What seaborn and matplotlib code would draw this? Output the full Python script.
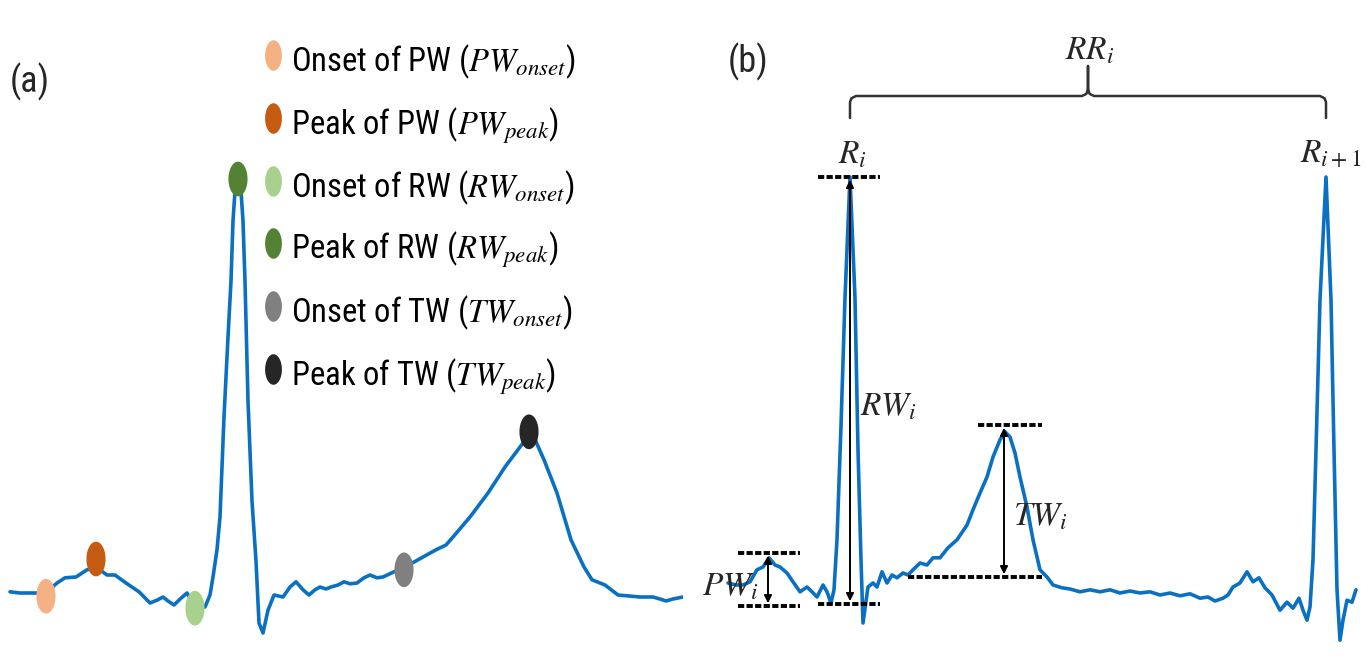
import numpy as np
import pandas as pd
import matplotlib
matplotlib.use("Agg")
import matplotlib.pyplot as plt
import seaborn as sns
from matplotlib.path import Path
from matplotlib import font_manager as fm

# ---------------- data ----------------
# panel (a): one beat, time in ms, amplitude in mV
ecg_a_time_ms = [0, 20, 40, 60, 76, 94, 110, 132, 154, 172, 194, 210, 232, 258, 280, 294,
                 306, 316, 328, 342, 354, 370, 390, 400, 406, 414, 420, 428, 436, 442,
                 446, 450, 456, 462, 466, 470, 476, 484, 492, 498, 506, 516, 528, 546,
                 560, 572, 586, 598, 610, 620, 632, 642, 656, 668, 680, 694, 708, 720,
                 734, 746, 768, 790, 816, 852, 872, 886, 920, 956, 990, 1026, 1046, 1068,
                 1094, 1122, 1148, 1164, 1190, 1216, 1260, 1286, 1300, 1312, 1326, 1346]
ecg_a_mv = [0.003, 0.000, 0.000, 0.000, 0.005, 0.025, 0.038, 0.040, 0.058, 0.065, 0.045,
            0.045, 0.025, 0.003, -0.025, -0.018, -0.010, -0.020, -0.030, -0.013, 0.000,
            -0.033, -0.035, -0.005, 0.040, 0.108, 0.190, 0.440, 0.640, 0.780, 0.930,
            1.005, 1.030, 1.005, 0.930, 0.780, 0.480, 0.230, 0.080, -0.075, -0.100,
            -0.043, -0.005, -0.010, 0.015, 0.028, 0.008, -0.005, 0.008, 0.015, 0.010,
            0.015, 0.020, 0.028, 0.023, 0.025, 0.038, 0.045, 0.038, 0.040, 0.053, 0.065,
            0.083, 0.108, 0.120, 0.140, 0.190, 0.250, 0.315, 0.375, 0.395, 0.333, 0.250,
            0.133, 0.065, 0.033, 0.020, -0.005, -0.010, -0.010, -0.015, -0.020, -0.015,
            -0.010]

fid_labels = ["Onset of PW", "Peak of PW", "Onset of RW", "Peak of RW",
              "Onset of TW", "Peak of TW"]
fid_symbols = ["PW_{onset}", "PW_{peak}", "RW_{onset}", "RW_{peak}",
               "TW_{onset}", "TW_{peak}"]
fid_time_ms = [72, 172, 370, 456, 788, 1038]
fid_mv = [-0.008, 0.085, -0.038, 1.035, 0.058, 0.403]
fid_colors = ["#F4B183", "#C55A11", "#A9D18E", "#548235", "#808080", "#262626"]

# panel (b): one RR interval, time in ms, amplitude in mV
ecg_b_time_ms = [0, 16, 30, 44, 58, 70, 82, 94, 104, 118, 130, 144, 158, 168, 178, 190,
                 198, 206, 212, 218, 226, 234, 244, 254, 260, 266, 270, 280, 290, 298,
                 308, 318, 328, 338, 350, 360, 370, 384, 398, 410, 424, 440, 458, 478,
                 490, 504, 518, 530, 544, 554, 564, 574, 584, 598, 610, 624, 638, 650,
                 668, 684, 704, 724, 744, 764, 784, 804, 824, 844, 864, 884, 904, 924,
                 944, 960, 974, 990, 1000, 1010, 1024, 1038, 1050, 1062, 1074, 1088,
                 1104, 1118, 1130, 1142, 1150, 1158, 1164, 1170, 1176, 1184, 1196, 1206,
                 1212, 1218, 1224, 1230, 1238, 1248, 1256]
ecg_b_mv = [0.035, 0.030, 0.030, 0.038, 0.068, 0.075, 0.098, 0.080, 0.075, 0.060, 0.038,
            0.013, 0.025, 0.013, 0.000, 0.030, 0.013, -0.015, 0.018, 0.143, 0.428, 0.748,
            1.050, 0.748, 0.368, 0.093, -0.065, 0.025, 0.035, 0.025, 0.063, 0.035, 0.055,
            0.048, 0.060, 0.055, 0.068, 0.085, 0.080, 0.098, 0.098, 0.123, 0.143, 0.180,
            0.218, 0.260, 0.300, 0.350, 0.393, 0.413, 0.400, 0.360, 0.300, 0.225, 0.143,
            0.068, 0.050, 0.030, 0.023, 0.020, 0.013, 0.018, 0.013, 0.018, 0.010, 0.015,
            0.010, 0.013, 0.005, 0.010, 0.003, 0.008, -0.003, 0.000, -0.010, -0.003,
            0.005, 0.025, 0.035, 0.063, 0.038, 0.048, 0.023, 0.005, -0.033, -0.013,
            -0.028, -0.003, -0.033, -0.058, -0.025, 0.093, 0.368, 0.743, 1.050, 0.743,
            0.368, 0.018, -0.108, -0.058, -0.008, -0.013, 0.018]

# amplitude reference levels (top, bottom) in mV, read from the dashed guides
wave_names = ["PW", "RW", "TW"]
wave_top_mv = [0.110, 1.050, 0.430]
wave_bottom_mv = [-0.0225, -0.0175, 0.050]

# ---------------- style ----------------
sns.set_theme(style="white")
avail = {f.name for f in fm.fontManager.ttflist}
main_font = "DejaVu Sans"
for cand in ["Liberation Sans Narrow", "Roboto Condensed", "Open Sans Condensed",
             "Liberation Sans", "DejaVu Sans"]:
    if cand in avail:
        main_font = cand
        break
plt.rcParams["font.family"] = [main_font, "DejaVu Sans"]
plt.rcParams["mathtext.fontset"] = "stix"

BLUE = "#0A70C2"
fig = plt.figure(figsize=(13.66, 6.67), dpi=100)
fig.patch.set_facecolor("white")

# ---------------- panel (a) ----------------
ax_a = fig.add_axes([0, 0, 0.5, 1])
df_a = pd.DataFrame({"t": ecg_a_time_ms, "mv": ecg_a_mv})
sns.lineplot(data=df_a, x="t", y="mv", ax=ax_a, color=BLUE, lw=2.6,
             sort=False, estimator=None)
ax_a.set_xlim(-20, 1346)
ax_a.set_ylim(-0.185, 1.4825)
ax_a.axis("off")

theta = np.linspace(0, 2 * np.pi, 64)
ell = Path(np.column_stack([0.55 * np.cos(theta), np.sin(theta)]), closed=True)

ax_a.scatter(fid_time_ms, fid_mv, s=25 ** 2, marker=ell, c=fid_colors,
             linewidths=0, zorder=5)

# legend of fiducial points
row_y_px = [55, 118, 181, 243, 306, 369]
for lab, sym, col, ypx in zip(fid_labels, fid_symbols, fid_colors, row_y_px):
    ay = 1 - ypx / 667
    ax_a.scatter([273 / 683], [ay], s=22 ** 2, marker=ell, color=col,
                 linewidths=0, transform=ax_a.transAxes, clip_on=False, zorder=5)
    ax_a.text(291 / 683, 1 - (ypx + 16) / 667, f"{lab} (${sym}$)",
              transform=ax_a.transAxes, fontsize=23.5, va="baseline", ha="left",
              color="black")

ax_a.text(30 / 683, 1 - 82 / 667, "(a)", transform=ax_a.transAxes, fontsize=26,
          ha="center", va="center")

# ---------------- panel (b) ----------------
ax_b = fig.add_axes([0.5, 0, 0.5, 1])
df_b = pd.DataFrame({"t": ecg_b_time_ms, "mv": ecg_b_mv})
sns.lineplot(data=df_b, x="t", y="mv", ax=ax_b, color=BLUE, lw=2.6,
             sort=False, estimator=None)
ax_b.set_xlim(-90, 1276)
ax_b.set_ylim(-0.175, 1.4925)
ax_b.axis("off")

tb = np.array(ecg_b_time_ms)
vb = np.array(ecg_b_mv)
first = tb < 700
t_r1 = tb[first][np.argmax(vb[first])]
t_r2 = tb[~first][np.argmax(vb[~first])]

dash_kw = dict(color="black", lw=2.8, linestyle=(0, (1.6, 0.6)), zorder=4)
arrow_kw = dict(arrowstyle="<|-|>", color="black", lw=1.4, mutation_scale=11,
                shrinkA=2, shrinkB=2)

# dashed guide extents (ms) and arrow positions (ms)
top_span = [(20, 144), (180, 304), (500, 628)]
bottom_span = [(20, 144), (180, 304), (360, 628)]
arrow_t = [80, t_r1, 552]
for top, bot, (t0, t1), (b0, b1), at in zip(wave_top_mv, wave_bottom_mv,
                                            top_span, bottom_span, arrow_t):
    ax_b.plot([t0, t1], [top, top], **dash_kw)
    ax_b.plot([b0, b1], [bot, bot], **dash_kw)
    ax_b.annotate("", xy=(at, bot), xytext=(at, top), arrowprops=arrow_kw, zorder=6)

math_fs = 24
ax_b.text(-52, 0.005, r"$PW_i$", fontsize=math_fs, ha="left", va="baseline")
ax_b.text(264, 0.455, r"$RW_i$", fontsize=math_fs, ha="left", va="baseline")
ax_b.text(570, 0.18, r"$TW_i$", fontsize=math_fs, ha="left", va="baseline")
ax_b.text(t_r1 + 6, 1.085, r"$R_i$", fontsize=math_fs, ha="center", va="baseline")
ax_b.text(t_r2 - 52, 1.085, r"$R_{i+1}$", fontsize=math_fs, ha="left", va="baseline")

# curly brace spanning RR interval
mid = (t_r1 + t_r2) / 2
yb, ye, yc = 1.2525, 1.1975, 1.3275
left = [(t_r1, ye), (t_r1, 1.237), (t_r1 + 3, 1.247), (t_r1 + 12, yb),
        (mid - 12, yb), (mid - 3, 1.258), (mid, 1.272), (mid, yc)]
right = [(mid, 1.272), (mid + 3, 1.258), (mid + 12, yb), (t_r2 - 12, yb),
         (t_r2 - 3, 1.247), (t_r2, 1.237), (t_r2, ye)]
bx, by = zip(*(left + right))
ax_b.plot(bx, by, color="#333333", lw=1.8, solid_capstyle="round", zorder=4)
ax_b.text(mid + 4, 1.345, r"$RR_i$", fontsize=math_fs, ha="center", va="baseline")

ax_b.text(40, 1.3375, "(b)", fontsize=26, ha="center", va="center")

fig.savefig("out.png", dpi=100, facecolor="white")
